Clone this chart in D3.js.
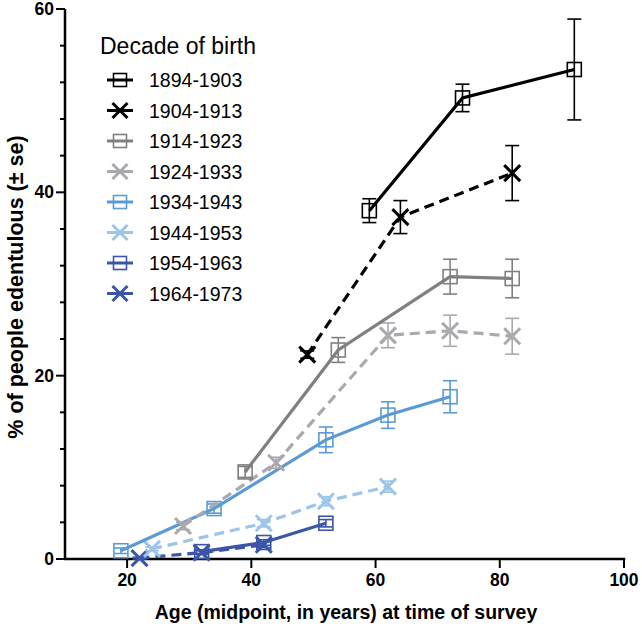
<!DOCTYPE html>
<html>
<head>
<meta charset="utf-8">
<script src="https://cdn.jsdelivr.net/npm/d3@7"></script>
<style>
  html, body { margin: 0; padding: 0; background: #fff; }
  svg { display: block; font-family: "Liberation Sans", Arial, sans-serif; }
</style>
</head>
<body>
<svg id="chart" width="642" height="627"></svg>
<script>
// ---- data ----
const cohorts = ["1894-1903", "1904-1913", "1914-1923", "1924-1933", "1934-1943", "1944-1953", "1954-1963", "1964-1973"];
const markers = ["square", "cross", "square", "cross", "square", "cross", "square", "cross"];
const dashed = [false, true, false, true, false, true, false, true];
const colors = ["#000000", "#000000", "#808080", "#a9a9ae", "#5b9bd5", "#9cc5ea", "#3b55a8", "#3b55a8"];

const ages1894 = [59, 74, 92];
const pct1894 = [38.0, 50.3, 53.4];
const se1894 = [1.3, 1.5, 5.5];

const ages1904 = [49, 64, 82];
const pct1904 = [22.3, 37.3, 42.1];
const se1904 = [0.4, 1.8, 3.0];

const ages1914 = [39, 54, 72, 82];
const pct1914 = [9.5, 22.8, 30.8, 30.6];
const se1914 = [0.6, 1.35, 1.9, 2.1];

const ages1924 = [29, 44, 62, 72, 82];
const pct1924 = [3.6, 10.5, 24.4, 24.9, 24.3];
const se1924 = [0.4, 0.6, 1.35, 1.7, 1.95];

const ages1934 = [19, 34, 52, 62, 72];
const pct1934 = [0.9, 5.5, 13.0, 15.7, 17.7];
const se1934 = [0.3, 0.5, 1.4, 1.45, 1.75];

const ages1944 = [24, 42, 52, 62];
const pct1944 = [1.1, 3.9, 6.3, 7.9];
const se1944 = [0.2, 0.4, 0.5, 0.6];

const ages1954 = [32, 42, 52];
const pct1954 = [0.8, 1.8, 3.9];
const se1954 = [0.2, 0.3, 0.4];

const ages1964 = [22, 32, 42];
const pct1964 = [0.1, 0.7, 1.55];
const se1964 = [0.1, 0.2, 0.3];

const xTicks = [20, 40, 60, 80, 100];
const yTicks = [0, 20, 40, 60];
const yMinorTicks = [4, 8, 12, 16, 24, 28, 32, 36, 44, 48, 52, 56];

const xTitle = "Age (midpoint, in years) at time of survey";
const yTitle = "% of people edentulous (\u00B1 se)";
const legendTitle = "Decade of birth";

// ---- build series ----
const agesAll = [ages1894, ages1904, ages1914, ages1924, ages1934, ages1944, ages1954, ages1964];
const pctAll = [pct1894, pct1904, pct1914, pct1924, pct1934, pct1944, pct1954, pct1964];
const seAll = [se1894, se1904, se1914, se1924, se1934, se1944, se1954, se1964];
const series = cohorts.map((c, i) => ({
  name: c, marker: markers[i], dashed: dashed[i], color: colors[i],
  points: agesAll[i].map((a, j) => ({ x: a, y: pctAll[i][j], se: seAll[i][j] }))
}));

// ---- layout ----
const svg = d3.select("#chart");
const x = d3.scaleLinear().domain([10, 100]).range([65, 624]);
const y = d3.scaleLinear().domain([0, 60]).range([559, 9]);

// axes
const axisG = svg.append("g");
axisG.append("line").attr("x1", x(10)).attr("x2", x(10)).attr("y1", y(60)).attr("y2", y(0))
  .attr("stroke", "#000").attr("stroke-width", 2.5);
axisG.append("line").attr("x1", x(10)).attr("x2", x(100)).attr("y1", y(0)).attr("y2", y(0))
  .attr("stroke", "#000").attr("stroke-width", 2.5).attr("stroke-linecap", "square");

// y ticks
axisG.selectAll(".ymaj").data(yTicks).join("line")
  .attr("x1", x(10) - 9).attr("x2", x(10)).attr("y1", d => y(d)).attr("y2", d => y(d))
  .attr("stroke", "#000").attr("stroke-width", 2);
axisG.selectAll(".ymin").data(yMinorTicks).join("line")
  .attr("x1", x(10) - 5).attr("x2", x(10)).attr("y1", d => y(d)).attr("y2", d => y(d))
  .attr("stroke", "#000").attr("stroke-width", 2);
axisG.selectAll(".ylab").data(yTicks).join("text")
  .attr("x", x(10) - 11).attr("y", d => y(d) + 6)
  .attr("text-anchor", "end").attr("font-size", 17.5).attr("font-weight", "bold").text(d => d);

// x ticks
axisG.selectAll(".xmaj").data(xTicks).join("line")
  .attr("x1", d => x(d)).attr("x2", d => x(d)).attr("y1", y(0)).attr("y2", y(0) + 9)
  .attr("stroke", "#000").attr("stroke-width", 2);
axisG.selectAll(".xlab").data(xTicks).join("text")
  .attr("x", d => x(d)).attr("y", y(0) + 27)
  .attr("text-anchor", "middle").attr("font-size", 17.5).attr("font-weight", "bold").text(d => d);

// titles
svg.append("text").attr("x", 346).attr("y", 619).attr("text-anchor", "middle")
  .attr("font-size", 19.5).attr("font-weight", "bold").text(xTitle);
svg.append("text").attr("transform", "translate(23,287) rotate(-90)").attr("text-anchor", "middle")
  .attr("font-size", 21.5).attr("font-weight", "bold").text(yTitle);

// ---- marks ----
const line = d3.line().x(d => x(d.x)).y(d => y(d.y));
const plot = svg.append("g");

function drawMarker(g, type, color, cx, cy, s) {
  if (type === "square") {
    g.append("rect").attr("x", cx - s).attr("y", cy - s).attr("width", 2 * s).attr("height", 2 * s)
      .attr("fill", "none").attr("stroke", color).attr("stroke-width", 1.6);
  } else {
    const k = s + 1;
    g.append("path").attr("d", `M${cx - k},${cy - k}L${cx + k},${cy + k}M${cx - k},${cy + k}L${cx + k},${cy - k}`)
      .attr("fill", "none").attr("stroke", color).attr("stroke-width", 3);
  }
}

[...series].reverse().forEach(s => {
  const g = plot.append("g");
  s.points.forEach(p => {
    const x0 = x(p.x), yt = y(p.y + p.se), yb = y(p.y - p.se);
    g.append("line").attr("x1", x0).attr("x2", x0).attr("y1", yt).attr("y2", yb)
      .attr("stroke", s.color).attr("stroke-width", 1.6);
    [yt, yb].forEach(yy => g.append("line").attr("x1", x0 - 7).attr("x2", x0 + 7).attr("y1", yy).attr("y2", yy)
      .attr("stroke", s.color).attr("stroke-width", 1.6));
  });
  g.append("path").datum(s.points).attr("d", line).attr("fill", "none")
    .attr("stroke", s.color).attr("stroke-width", 3.2)
    .attr("stroke-dasharray", s.dashed ? "10,6" : null);
  s.points.forEach(p => drawMarker(g, s.marker, s.color, x(p.x), y(p.y), 7));
});

// ---- legend ----
const leg = svg.append("g");
leg.append("text").attr("x", 100).attr("y", 54).attr("font-size", 23).text(legendTitle);
series.forEach((s, i) => {
  const cy = 80 + i * 30.5;
  leg.append("line").attr("x1", 107).attr("x2", 133).attr("y1", cy).attr("y2", cy)
    .attr("stroke", s.color).attr("stroke-width", 3);
  drawMarker(leg, s.marker, s.color, 120, cy, 6.5);
  leg.append("text").attr("x", 149).attr("y", cy + 7).attr("font-size", 19.5).text(s.name);
});
</script>
</body>
</html>
